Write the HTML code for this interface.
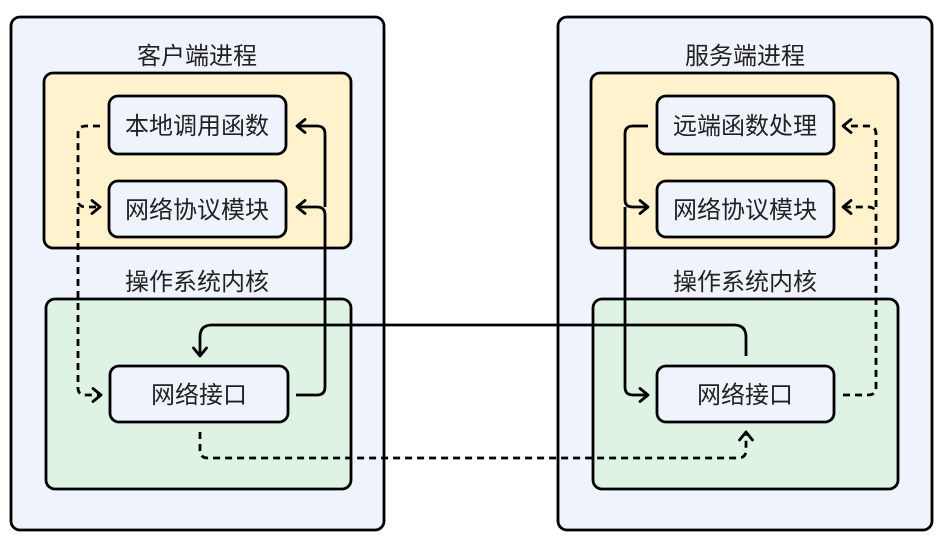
<!DOCTYPE html>
<html><head><meta charset="utf-8"><style>
html,body{margin:0;padding:0;background:#fff;}
svg{display:block;}
text{font-family:"Liberation Sans","Noto Sans CJK SC",sans-serif;font-size:24px;fill:#222;text-anchor:middle;}
</style></head><body>
<svg width="945" height="549" viewBox="0 0 945 549">
<defs>
<marker id="a" viewBox="0 0 16 16" refX="13" refY="8" markerWidth="16" markerHeight="16" markerUnits="userSpaceOnUse" orient="auto">
<path d="M5,1.5 L13,8 L5,14.5" fill="none" stroke="#000" stroke-width="2.8" stroke-linecap="round" stroke-linejoin="round"/>
</marker>
</defs>
<g stroke="#000" stroke-width="2.8">
<rect x="11" y="17" width="373" height="513" rx="9" fill="#eff3fc"/>
<rect x="558" y="17" width="374" height="513" rx="9" fill="#eff3fc"/>
<rect x="44" y="73" width="307" height="175" rx="9" fill="#fff2cc"/>
<rect x="591" y="73" width="307" height="175" rx="9" fill="#fff2cc"/>
<rect x="46" y="299" width="305" height="190" rx="9" fill="#dff3e4"/>
<rect x="593" y="299" width="305" height="190" rx="9" fill="#dff3e4"/>
<rect x="109" y="96" width="177" height="58" rx="9" fill="#eff3fc"/>
<rect x="109" y="181" width="177" height="56" rx="9" fill="#eff3fc"/>
<rect x="110" y="366" width="178" height="56" rx="9" fill="#eff3fc"/>
<rect x="657" y="96" width="177" height="58" rx="9" fill="#eff3fc"/>
<rect x="657" y="181" width="177" height="56" rx="9" fill="#eff3fc"/>
<rect x="657" y="366" width="177" height="56" rx="9" fill="#eff3fc"/>
</g>
<g fill="none" stroke="#000" stroke-width="2.8">
<path d="M100,126 H86 Q78,126 78,134 V200 Q78,207 86,207 H100" stroke-dasharray="7,5" marker-end="url(#a)"/>
<path d="M78,207 V388 Q78,395 86,395 H101" stroke-dasharray="7,5" marker-end="url(#a)"/>
<path d="M296,395 H317 Q325,395 325,387 V215 Q325,207 317,207 H297" marker-end="url(#a)"/>
<path d="M325,207 V134 Q325,126 317,126 H297" marker-end="url(#a)"/>
<path d="M746,356 V337 Q746,325 734,325 H212 Q200,325 200,337 V356" marker-end="url(#a)"/>
<path d="M200,432 V450 Q200,458 208,458 H738 Q746,458 746,450 V432" stroke-dasharray="7,5" marker-end="url(#a)"/>
<path d="M648,126 H633 Q625,126 625,134 V200 Q625,207 633,207 H648" marker-end="url(#a)"/>
<path d="M625,207 V387 Q625,395 633,395 H648" marker-end="url(#a)"/>
<path d="M843,395 H868 Q876,395 876,387 V215 Q876,207 868,207 H843" stroke-dasharray="7,5" marker-end="url(#a)"/>
<path d="M876,207 V134 Q876,126 868,126 H843" stroke-dasharray="7,5" marker-end="url(#a)"/>
</g>
<text x="197" y="64">客户端进程</text>
<text x="745" y="64">服务端进程</text>
<text x="197" y="290">操作系统内核</text>
<text x="745" y="290">操作系统内核</text>
<text x="197" y="134">本地调用函数</text>
<text x="197" y="218">网络协议模块</text>
<text x="199" y="403">网络接口</text>
<text x="745" y="134">远端函数处理</text>
<text x="745" y="218">网络协议模块</text>
<text x="745" y="403">网络接口</text>
</svg>
</body></html>
